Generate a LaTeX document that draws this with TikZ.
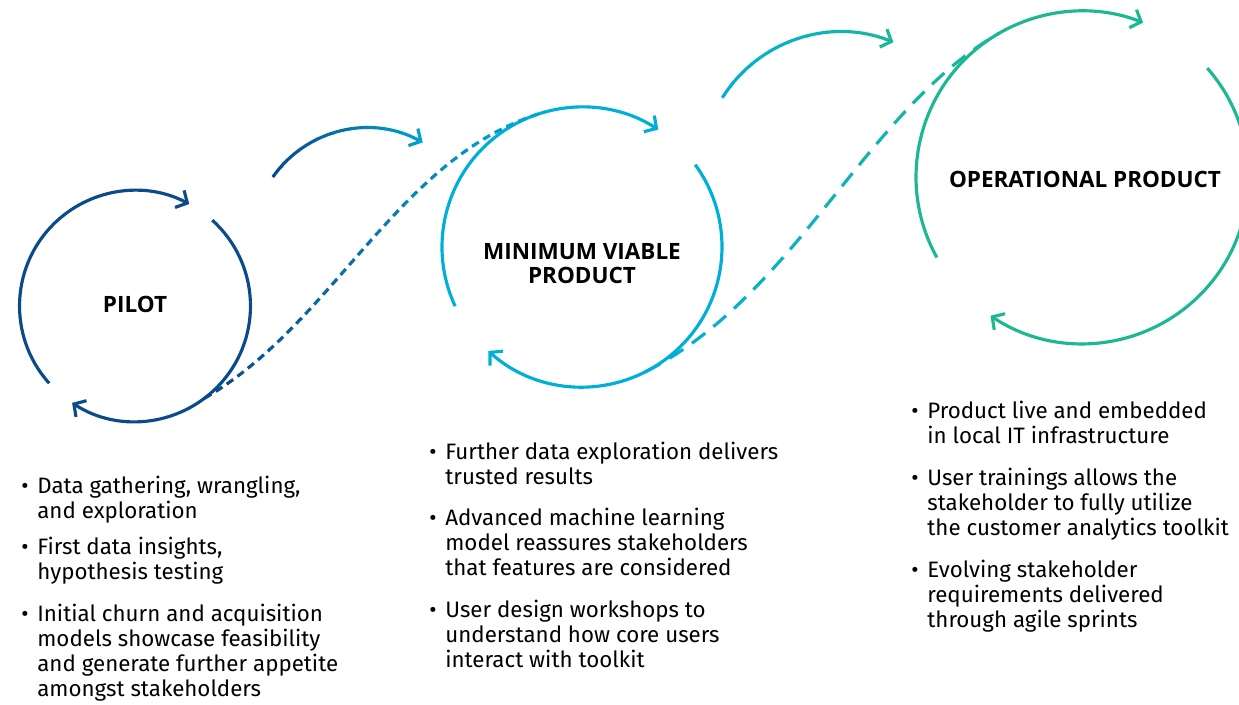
\documentclass[tikz,border=0pt]{standalone}
\usepackage{fontspec}
\setmainfont{Fira Sans}
\newfontfamily\titlefont{Open Sans}
\usetikzlibrary{arrows.meta}

\definecolor{pilotblue}{HTML}{0B4A8B}
\definecolor{mvpcyan}{HTML}{00AFD7}
\definecolor{opgreen}{HTML}{1DB893}

\newcommand{\bodysize}{\fontsize{12.7pt}{14.23pt}\selectfont}
\newcommand{\dotitem}{\llap{\textbullet\hspace{5pt}}}

\tikzset{
  ring/.style={circle, minimum size=#1, inner sep=0pt, outer sep=0pt},
  loopline/.style={line width=1.8pt, -{Straight Barb[length=5pt,width=11pt]}},
  title/.style={font=\titlefont\fontsize{12.8pt}{13.7pt}\selectfont\bfseries, align=center, inner sep=0pt},
  bullets/.style={font=\bodysize, anchor=north west, align=left, inner sep=0pt, execute at begin node=\strut},
  dashA/.style={line width=1.8pt, dash pattern=on 4.5pt off 3pt},
  dashB/.style={line width=1.8pt, dash pattern=on 9.5pt off 6pt},
}

\begin{document}
\begin{tikzpicture}[x=0.02cm, y=0.02cm]
\useasboundingbox (0,0) rectangle (1239,704);

% Stage rings, only their borders are used
\node[ring=4.62cm] (pilot) at (135,398) {};
\node[ring=5.6cm] (mvp) at (582,457) {};
\node[ring=6.64cm] (oper) at (1082,527) {};

% Stage titles
\node[title] (pilottitle) at (135,400) {PILOT};
\node[title] (mvptitle) at (582,440) {MINIMUM VIABLE\\PRODUCT};
\node[title] (opertitle) at (1085,525) {OPERATIONAL PRODUCT};

% Pilot loop
\draw[loopline, pilotblue] (pilot.222) arc[start angle=222, end angle=62, radius=2.31cm];
\draw[loopline, pilotblue] (pilot.48) arc[start angle=48, end angle=-123, radius=2.31cm];

% MVP loop
\draw[loopline, mvpcyan] (mvp.205) arc[start angle=205, end angle=57, radius=2.8cm];
\draw[loopline, mvpcyan] (mvp.36) arc[start angle=36, end angle=-132, radius=2.8cm];

% Operational loop
\draw[loopline, opgreen] (oper.209) arc[start angle=209, end angle=68.4, radius=3.32cm];
\draw[loopline, opgreen] (oper.41.3) arc[start angle=41.3, end angle=-123.7, radius=3.32cm];

% Hop from pilot to MVP, colour blends band by band
\foreach \k in {0,...,9} {
  \begin{scope}
    \clip ({265+17*\k},0) rectangle ({283+17*\k},704);
    \draw[loopline, draw=mvpcyan!\k0!pilotblue] ([shift={(145:2.3cm)}]367,461) arc[start angle=145, end angle=61, radius=2.3cm];
  \end{scope}
}

% Hop from MVP to operational
\foreach \k in {0,...,9} {
  \begin{scope}
    \clip ({712+19*\k},0) rectangle ({732+19*\k},704);
    \draw[loopline, draw=opgreen!\k0!mvpcyan] ([shift={(148:2.8cm)}]841,532) arc[start angle=148, end angle=68, radius=2.8cm];
  \end{scope}
}

% Dashed links between the rings
\foreach \k in {0,...,9} {
  \begin{scope}
    \clip ({200+34*\k},0) rectangle ({235+34*\k},704);
    \draw[dashA, draw=mvpcyan!\k0!pilotblue] (pilot.-53) .. controls +(30:3cm) and +(197:3cm) .. (mvp.107);
  \end{scope}
}
\foreach \k in {0,...,9} {
  \begin{scope}
    \clip ({640+36*\k},0) rectangle ({677+36*\k},704);
    \draw[dashB, draw=opgreen!\k0!mvpcyan] (mvp.-63) .. controls +(27:3.4cm) and +(210:3.1cm) .. (oper.120.5);
  \end{scope}
}

% Pilot bullets
\node[bullets] (pilotA) at (37,228.6) {\dotitem Data gathering, wrangling,\\and exploration};
\node[bullets] (pilotB) at (37,167.6) {\dotitem First data insights,\\hypothesis testing};
\node[bullets] (pilotC) at (37,100.6) {\dotitem Initial churn and acquisition\\models showcase feasibility\\and generate further appetite\\amongst stakeholders};

% MVP bullets
\node[bullets] (mvpA) at (445,262.6) {\dotitem Further data exploration delivers\\trusted results};
\node[bullets] (mvpB) at (445,196.6) {\dotitem Advanced machine learning\\model reassures stakeholders\\that features are considered};
\node[bullets] (mvpC) at (445,104.6) {\dotitem User design workshops to\\understand how core users\\interact with toolkit};

% Operational bullets
\node[bullets] (operA) at (927,303.6) {\dotitem Product live and embedded\\in local IT infrastructure};
\node[bullets] (operB) at (927,236.6) {\dotitem User trainings allows the\\stakeholder to fully utilize\\the customer analytics toolkit};
\node[bullets] (operC) at (927,144.6) {\dotitem Evolving stakeholder\\requirements delivered\\through agile sprints};

\end{tikzpicture}
\end{document}
